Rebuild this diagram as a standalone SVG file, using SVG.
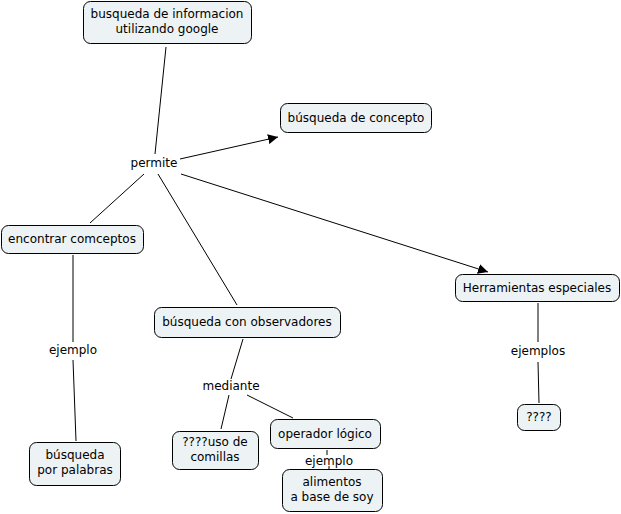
<svg xmlns="http://www.w3.org/2000/svg" width="621" height="514" viewBox="0 0 621 514">
<defs>
<style>
.n rect{fill:#edf3f5;stroke:#000;stroke-width:1}
text{font-family:"DejaVu Sans",Verdana,sans-serif;font-size:12px;fill:#000;text-anchor:middle}
.c line{stroke:#000;stroke-width:1}
</style>
<marker id="ah" viewBox="0 0 10 10" refX="10" refY="5" markerWidth="10" markerHeight="10" markerUnits="userSpaceOnUse" orient="auto">
<path d="M0,0 L10,5 L0,10 z" fill="#000"/>
</marker>
</defs>
<rect width="621" height="514" fill="#fff"/>
<g class="c">
<line x1="166" y1="47" x2="155" y2="154"/>
<line x1="180" y1="159" x2="278" y2="137" marker-end="url(#ah)"/>
<line x1="144" y1="174" x2="90" y2="223"/>
<line x1="158" y1="174" x2="237" y2="305"/>
<line x1="181" y1="174" x2="488" y2="272" marker-end="url(#ah)"/>
<line x1="73" y1="255" x2="73" y2="342"/>
<line x1="73" y1="360" x2="76" y2="441"/>
<line x1="243" y1="339" x2="231" y2="379"/>
<line x1="229" y1="395" x2="221" y2="429"/>
<line x1="247" y1="395" x2="293" y2="418"/>
<line x1="327" y1="450" x2="327" y2="455"/>
<line x1="329" y1="466" x2="329" y2="469"/>
<line x1="538" y1="303" x2="538" y2="342"/>
<line x1="538" y1="362" x2="539" y2="403"/>
</g>
<g id="n1" class="n"><rect x="83.5" y="1.5" width="168" height="42" rx="7"/><text x="167" y="18">busqueda de informacion</text><text x="167" y="33">utilizando google</text></g>
<g id="n2" class="n"><rect x="280.5" y="103.5" width="151" height="29" rx="7"/><text x="356" y="122">búsqueda de concepto</text></g>
<g id="l1"><text x="154" y="167">permite</text></g>
<g id="n3" class="n"><rect x="1.5" y="225.5" width="142" height="28" rx="7"/><text x="72" y="243">encontrar comceptos</text></g>
<g id="n4" class="n"><rect x="154.5" y="307.5" width="186" height="30" rx="7"/><text x="247" y="326">búsqueda con observadores</text></g>
<g id="l2"><text x="231" y="390">mediante</text></g>
<g id="n5" class="n"><rect x="172.5" y="431.5" width="86" height="38" rx="7"/><text x="215" y="446">????uso de</text><text x="215" y="461">comillas</text></g>
<g id="n6" class="n"><rect x="270.5" y="419.5" width="110" height="29" rx="7"/><text x="325" y="438">operador lógico</text></g>
<g id="l3"><text x="329" y="465">ejemplo</text></g>
<g id="n7" class="n"><rect x="282.5" y="469.5" width="100" height="42" rx="7"/><text x="332" y="486">alimentos</text><text x="332" y="501">a base de soy</text></g>
<g id="n8" class="n"><rect x="455.5" y="274.5" width="164" height="27" rx="7"/><text x="537" y="292">Herramientas especiales</text></g>
<g id="l4"><text x="538" y="355">ejemplos</text></g>
<g id="n9" class="n"><rect x="517.5" y="404.5" width="43" height="26" rx="7"/><text x="539" y="421">????</text></g>
<g id="l5"><text x="73" y="354">ejemplo</text></g>
<g id="n10" class="n"><rect x="29.5" y="442.5" width="91" height="43" rx="7"/><text x="75" y="459">búsqueda</text><text x="75" y="474">por palabras</text></g>
</svg>
